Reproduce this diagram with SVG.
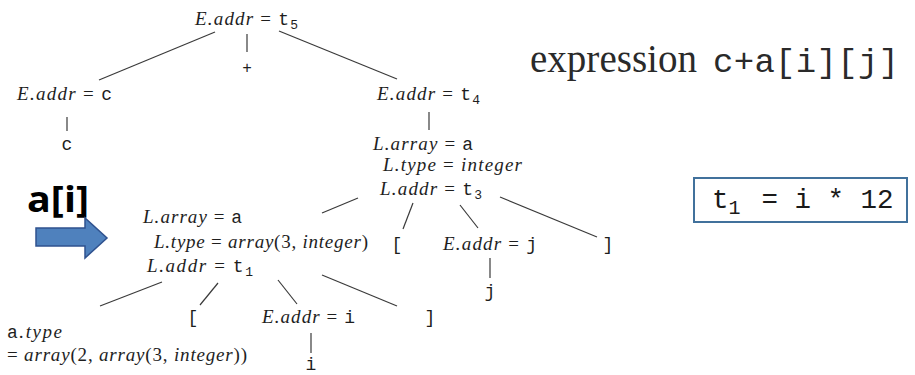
<svg xmlns="http://www.w3.org/2000/svg" width="915" height="375" viewBox="0 0 915 375">
<style>
.m{font-family:"Liberation Serif",serif;font-size:19px;fill:#1e1e1e}
.it{font-style:italic}
.tt{font-family:"Liberation Mono",monospace;font-size:18px}
.sub{font-size:13px}
.leaf{font-family:"Liberation Mono",monospace;font-size:18px;fill:#1e1e1e;text-anchor:middle}
.edge{stroke:#3a3a3a;stroke-width:1.2;fill:none}
</style>
<rect width="915" height="375" fill="#ffffff"/>
<g id="connectors">
<line class="edge" x1="215" y1="32" x2="99" y2="80"/>
<line class="edge" x1="247" y1="34" x2="247" y2="52"/>
<line class="edge" x1="279" y1="31" x2="397" y2="79"/>
<line class="edge" x1="67" y1="117" x2="67" y2="131"/>
<line class="edge" x1="429" y1="112" x2="429" y2="130"/>
<line class="edge" x1="358" y1="198" x2="322" y2="213"/>
<line class="edge" x1="413" y1="203" x2="403" y2="229"/>
<line class="edge" x1="460" y1="205" x2="478" y2="228"/>
<line class="edge" x1="500" y1="197" x2="597" y2="237"/>
<line class="edge" x1="490" y1="258" x2="490" y2="278"/>
<line class="edge" x1="162" y1="282" x2="100" y2="306"/>
<line class="edge" x1="218" y1="283" x2="200" y2="305"/>
<line class="edge" x1="278" y1="280" x2="297" y2="304"/>
<line class="edge" x1="322" y1="275" x2="397" y2="306"/>
<line class="edge" x1="311" y1="333" x2="311" y2="353"/>
</g>
<g id="root">
<text class="m" x="195" y="25" textLength="103" lengthAdjust="spacing"><tspan class="it">E.addr</tspan> = <tspan class="tt">t</tspan><tspan class="tt sub" dy="4">5</tspan></text>
</g>
<g id="plus"><text class="leaf" x="247" y="73" style="font-size:16px">+</text></g>
<g id="e-c">
<text class="m" x="17" y="100" textLength="95" lengthAdjust="spacing"><tspan class="it">E.addr</tspan> = <tspan class="tt">c</tspan></text>
</g>
<g id="leaf-c"><text class="leaf" x="67" y="150">c</text></g>
<g id="e-t4">
<text class="m" x="377" y="100" textLength="103" lengthAdjust="spacing"><tspan class="it">E.addr</tspan> = <tspan class="tt">t</tspan><tspan class="tt sub" dy="4">4</tspan></text>
</g>
<g id="l-t3">
<text class="m" x="373" y="150" textLength="100" lengthAdjust="spacing"><tspan class="it">L.array</tspan> = <tspan class="tt">a</tspan></text>
<text class="m" x="383" y="171" textLength="139" lengthAdjust="spacing"><tspan class="it">L.type</tspan> = <tspan class="it">integer</tspan></text>
<text class="m" x="380" y="195" textLength="102" lengthAdjust="spacing"><tspan class="it">L.addr</tspan> = <tspan class="tt">t</tspan><tspan class="tt sub" dy="4">3</tspan></text>
</g>
<g id="lbr-j"><text class="leaf" x="397" y="250">[</text></g>
<g id="e-j">
<text class="m" x="443" y="250" textLength="94" lengthAdjust="spacing"><tspan class="it">E.addr</tspan> = <tspan class="tt">j</tspan></text>
</g>
<g id="leaf-j"><text class="leaf" x="490" y="297">j</text></g>
<g id="rbr-j"><text class="leaf" x="608" y="250">]</text></g>
<g id="l-t1">
<text class="m" x="143" y="223" textLength="99" lengthAdjust="spacing"><tspan class="it">L.array</tspan> = <tspan class="tt">a</tspan></text>
<text class="m" x="154" y="248" textLength="214" lengthAdjust="spacing"><tspan class="it">L.type</tspan> = <tspan class="it">array</tspan>(3, <tspan class="it">integer</tspan>)</text>
<text class="m" x="147" y="272" textLength="106" lengthAdjust="spacing"><tspan class="it">L.addr</tspan> = <tspan class="tt">t</tspan><tspan class="tt sub" dy="4">1</tspan></text>
</g>
<g id="a-type">
<text class="m" x="7" y="338" textLength="55" lengthAdjust="spacing"><tspan class="tt">a</tspan><tspan class="it">.type</tspan></text>
<text class="m" x="7" y="361" textLength="240" lengthAdjust="spacing">= <tspan class="it">array</tspan>(2, <tspan class="it">array</tspan>(3, <tspan class="it">integer</tspan>))</text>
</g>
<g id="lbr-i"><text class="leaf" x="193" y="323">[</text></g>
<g id="e-i">
<text class="m" x="262" y="323" textLength="93" lengthAdjust="spacing"><tspan class="it">E.addr</tspan> = <tspan class="tt">i</tspan></text>
</g>
<g id="leaf-i"><text class="leaf" x="311" y="370">i</text></g>
<g id="rbr-i"><text class="leaf" x="430" y="323">]</text></g>
<g id="title">
<text x="530" y="72" textLength="167" lengthAdjust="spacingAndGlyphs" style="font-family:'Liberation Serif',serif;font-size:39px;fill:#2a2a2a">expression</text>
<text x="713" y="72" textLength="186" lengthAdjust="spacing" style="font-family:'Liberation Mono',monospace;font-size:34px;fill:#2a2a2a">c+a[i][j]</text>
</g>
<g id="a-i-label">
<text x="27" y="212" textLength="62" lengthAdjust="spacingAndGlyphs" style="font-family:'Open Sans',sans-serif;font-weight:bold;font-size:35px;fill:#000">a[i]</text>
<polygon points="36,228 85,228 85,218 107,238 85,258 85,246 36,246" fill="#4f81bd" stroke="#2f528f" stroke-width="1.5"/>
</g>
<g id="t1-box">
<rect x="694" y="178" width="213" height="44" fill="#ffffff" stroke="#41719c" stroke-width="2"/>
<text x="712" y="208" style="font-family:'Liberation Mono',monospace;font-size:27.5px;fill:#1a1a1a">t<tspan dy="6" style="font-size:20px">1</tspan><tspan x="745" dy="-6"> = i * 12</tspan></text>
</g>
</svg>
